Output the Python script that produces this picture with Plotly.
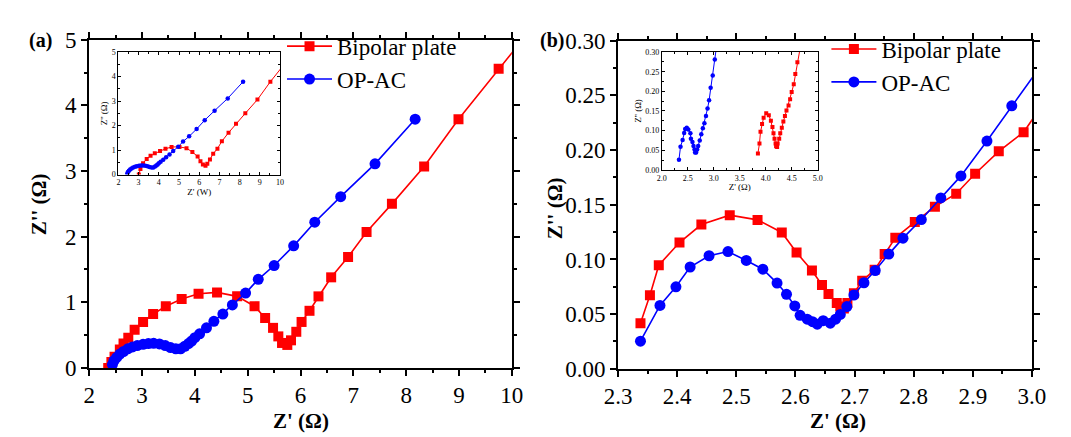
import plotly.graph_objects as go

# ---------------- Panel (a) main data ----------------
a_bp_x = [2.36, 2.42, 2.48, 2.58, 2.65, 2.74, 2.86, 3.02, 3.21, 3.45, 3.75, 4.07, 4.42, 4.80,
          5.13, 5.33, 5.48, 5.58, 5.65, 5.75, 5.82, 5.92, 6.02, 6.17, 6.34, 6.58, 6.90, 7.25,
          7.73, 8.34, 8.99, 9.75, 10.5]
a_bp_y = [0.00, 0.09, 0.17, 0.28, 0.37, 0.46, 0.58, 0.70, 0.82, 0.94, 1.05, 1.13, 1.15, 1.09,
          0.94, 0.76, 0.61, 0.48, 0.38, 0.35, 0.42, 0.55, 0.70, 0.87, 1.09, 1.38, 1.69, 2.07,
          2.50, 3.07, 3.79, 4.56, 5.30]
a_op_x = [2.44, 2.47, 2.52, 2.58, 2.65, 2.73, 2.82, 2.91, 3.02, 3.12, 3.22, 3.33, 3.44, 3.54,
          3.64, 3.73, 3.81, 3.88, 3.94, 4.00, 4.09, 4.22, 4.36, 4.53, 4.71, 4.96, 5.20, 5.50,
          5.87, 6.27, 6.76, 7.41, 8.17]
a_op_y = [0.05, 0.11, 0.16, 0.21, 0.25, 0.29, 0.32, 0.34, 0.36, 0.37, 0.375, 0.365, 0.34, 0.31,
          0.29, 0.29, 0.33, 0.37, 0.41, 0.46, 0.52, 0.61, 0.71, 0.82, 0.96, 1.14, 1.35, 1.56,
          1.86, 2.22, 2.61, 3.11, 3.79]

# ---------------- Panel (a) inset data ----------------
ia_bp_x = [3.01, 3.09, 3.22, 3.40, 3.59, 3.80, 4.06, 4.33, 4.63, 5.02, 5.37, 5.66, 5.92, 6.06,
           6.18, 6.31, 6.40, 6.53, 6.69, 6.90, 7.12, 7.45, 7.82, 8.28, 8.88, 9.52, 10.3]
ia_bp_y = [0.00, 0.23, 0.46, 0.64, 0.77, 0.87, 0.96, 1.05, 1.13, 1.13, 1.08, 0.92, 0.74, 0.55,
           0.41, 0.36, 0.44, 0.62, 0.85, 1.06, 1.36, 1.71, 2.08, 2.50, 3.06, 3.79, 4.60]

# ---------------- Panel (b) main data ----------------
b_bp_x = [2.338, 2.354, 2.369, 2.404, 2.441, 2.489, 2.536, 2.577, 2.602, 2.628, 2.645, 2.656,
          2.670, 2.676, 2.682, 2.688, 2.699, 2.713, 2.734, 2.751, 2.769, 2.802, 2.836, 2.872,
          2.904, 2.944, 2.986, 3.020]
b_bp_y = [0.0417, 0.0672, 0.0948, 0.1155, 0.1319, 0.1405, 0.1362, 0.1247, 0.1063, 0.0899,
          0.0767, 0.0684, 0.0603, 0.0569, 0.0552, 0.0603, 0.0690, 0.0805, 0.0905, 0.1049,
          0.1198, 0.1342, 0.1483, 0.1601, 0.1784, 0.1989, 0.2164, 0.2430]
b_op_x = [2.338, 2.371, 2.398, 2.422, 2.454, 2.486, 2.517, 2.545, 2.569, 2.585, 2.599, 2.608,
          2.620, 2.629, 2.637, 2.647, 2.659, 2.668, 2.676, 2.687, 2.699, 2.716, 2.735, 2.758,
          2.782, 2.813, 2.846, 2.880, 2.924, 2.966, 3.040]
b_op_y = [0.0253, 0.0580, 0.0750, 0.0931, 0.1034, 0.1072, 0.0991, 0.0911, 0.0784, 0.0681,
          0.0575, 0.0489, 0.0454, 0.0431, 0.0408, 0.0440, 0.0417, 0.0454, 0.0497, 0.0569,
          0.0675, 0.0787, 0.0899, 0.1049, 0.1195, 0.1365, 0.1563, 0.1764, 0.2083, 0.2405,
          0.2960]

# ---------------- Panel (b) inset data ----------------
ib_op_x = [2.33, 2.36, 2.40, 2.43, 2.45, 2.48, 2.51, 2.55, 2.56, 2.59, 2.61, 2.63, 2.64, 2.66,
           2.68, 2.70, 2.73, 2.76, 2.79, 2.82, 2.85, 2.88, 2.91, 2.94, 2.98, 3.02, 3.07]
ib_op_y = [0.026, 0.059, 0.076, 0.094, 0.104, 0.107, 0.103, 0.093, 0.079, 0.071, 0.061, 0.052,
           0.044, 0.044, 0.052, 0.061, 0.075, 0.091, 0.106, 0.119, 0.137, 0.156, 0.177, 0.209,
           0.240, 0.281, 0.330]
ib_bp_x = [3.85, 3.88, 3.90, 3.93, 3.96, 4.01, 4.06, 4.10, 4.13, 4.15, 4.17, 4.19, 4.20, 4.22,
           4.23, 4.26, 4.28, 4.31, 4.34, 4.37, 4.40, 4.44, 4.47, 4.50, 4.54, 4.57, 4.61, 4.69]
ib_bp_y = [0.042, 0.067, 0.097, 0.117, 0.133, 0.144, 0.139, 0.125, 0.109, 0.093, 0.079, 0.067,
           0.060, 0.058, 0.067, 0.079, 0.093, 0.107, 0.123, 0.137, 0.151, 0.164, 0.180, 0.198,
           0.218, 0.244, 0.274, 0.330]

names = ["Bipolar plate", "OP-AC"]
RED = "#ff0000"
BLUE = "#0000ff"
FONT = "Liberation Serif, Times New Roman, serif"

fig = go.Figure()

def add(x, y, color, symbol, size, xa, ya, name, showlegend, legend="legend", lw=1.6):
    fig.add_trace(go.Scatter(
        x=x, y=y, mode="lines+markers", name=name,
        line=dict(color=color, width=lw),
        marker=dict(color=color, symbol=symbol, size=size),
        xaxis=xa, yaxis=ya, showlegend=showlegend, legend=legend))

# main (a)
add(a_bp_x, a_bp_y, RED, "square", 10, "x", "y", names[0], True, "legend")
add(a_op_x, a_op_y, BLUE, "circle", 11, "x", "y", names[1], True, "legend")
# main (b)
add(b_bp_x, b_bp_y, RED, "square", 10, "x2", "y2", names[0], True, "legend2")
add(b_op_x, b_op_y, BLUE, "circle", 11, "x2", "y2", names[1], True, "legend2")
# inset (a)
add(ia_bp_x, ia_bp_y, RED, "square", 4, "x3", "y3", names[0], False, lw=1)
add(a_op_x, a_op_y, BLUE, "circle", 4.5, "x3", "y3", names[1], False, lw=1)
# inset (b)
add(ib_bp_x, ib_bp_y, RED, "square", 4, "x4", "y4", names[0], False, lw=1)
add(ib_op_x, ib_op_y, BLUE, "circle", 4.5, "x4", "y4", names[1], False, lw=1)

W, H = 1071, 437
def dx(p0, p1):
    return [p0 / W, p1 / W]
def dy(top, bottom):
    return [(H - bottom) / H, (H - top) / H]

fig.update_layout(
    width=W, height=H, margin=dict(l=0, r=0, t=0, b=0),
    paper_bgcolor="white", plot_bgcolor="white",
    font=dict(family=FONT, color="black", size=12),
    xaxis=dict(domain=dx(69, 503), range=[2, 10], dtick=1, anchor="y",
               minor=dict(dtick=0.5)),
    yaxis=dict(domain=dy(21, 369), range=[0, 5], dtick=1, anchor="x",
               minor=dict(dtick=0.5)),
    xaxis2=dict(domain=dx(612, 1037), range=[2.3, 3.0], dtick=0.1, tickformat=".1f", anchor="y2",
                minor=dict(dtick=0.05)),
    yaxis2=dict(domain=dy(22, 370), range=[0, 0.30], dtick=0.05, tickformat=".2f", anchor="x2",
                minor=dict(dtick=0.025)),
    xaxis3=dict(domain=dx(99, 265), range=[2, 10], dtick=1, anchor="y3",
                minor=dict(dtick=0.5),
                title=dict(text="Z' (W)", font=dict(family=FONT, size=9), standoff=2)),
    yaxis3=dict(domain=dy(34, 164), range=[0, 5], dtick=1, anchor="x3",
                minor=dict(dtick=0.5),
                title=dict(text="Z'' (Ω)", font=dict(family=FONT, size=9), standoff=2)),
    xaxis4=dict(domain=dx(657, 817), range=[2.0, 5.0], dtick=0.5, tickformat=".1f", anchor="y4",
                minor=dict(dtick=0.25),
                title=dict(text="Z' (Ω)", font=dict(family=FONT, size=9), standoff=2)),
    yaxis4=dict(domain=dy(34, 159), range=[0, 0.30], dtick=0.05, tickformat=".2f", anchor="x4",
                minor=dict(dtick=0.025),
                title=dict(text="Z'' (Ω)", font=dict(family=FONT, size=9), standoff=2)),
    legend=dict(x=267 / W, y=1 - 5 / H, xanchor="left", yanchor="top",
                bgcolor="rgba(0,0,0,0)", font=dict(family=FONT, size=23, color="black"),
                tracegroupgap=0, itemsizing="trace", itemwidth=45),
    legend2=dict(x=826 / W, y=1 - 8 / H, xanchor="left", yanchor="top",
                 bgcolor="rgba(0,0,0,0)", font=dict(family=FONT, size=23, color="black"),
                 tracegroupgap=0, itemsizing="trace", itemwidth=45),
)

fig.update_xaxes(showline=True, linecolor="black", linewidth=2, mirror="ticks",
                 ticks="outside", ticklen=6, tickwidth=2, tickcolor="black",
                 showgrid=False, zeroline=False,
                 tickfont=dict(family=FONT, size=23, color="black"),
                 minor_ticks="outside", minor_ticklen=3, minor_tickwidth=2, minor_tickcolor="black",
                 selector=lambda ax: ax.anchor in ("y", "y2"))
fig.update_yaxes(showline=True, linecolor="black", linewidth=2, mirror="ticks",
                 ticks="outside", ticklen=6, tickwidth=2, tickcolor="black",
                 showgrid=False, zeroline=False,
                 tickfont=dict(family=FONT, size=23, color="black"),
                 minor_ticks="outside", minor_ticklen=3, minor_tickwidth=2, minor_tickcolor="black",
                 selector=lambda ax: ax.anchor in ("x", "x2"))
fig.update_xaxes(showline=True, linecolor="black", linewidth=1, mirror="ticks",
                 ticks="inside", ticklen=3, tickwidth=1, tickcolor="black",
                 showgrid=False, zeroline=False,
                 tickfont=dict(family=FONT, size=8, color="black"),
                 minor_ticks="inside", minor_ticklen=2, minor_tickcolor="black",
                 selector=lambda ax: ax.anchor in ("y3", "y4"))
fig.update_yaxes(showline=True, linecolor="black", linewidth=1, mirror="ticks",
                 ticks="inside", ticklen=3, tickwidth=1, tickcolor="black",
                 showgrid=False, zeroline=False,
                 tickfont=dict(family=FONT, size=8, color="black"),
                 minor_ticks="inside", minor_ticklen=2, minor_tickcolor="black",
                 selector=lambda ax: ax.anchor in ("x3", "x4"))

ann_font_title = dict(family=FONT, size=21, color="black")
def ann(text, x, y, font, angle=0):
    fig.add_annotation(text=text, x=x / W, y=1 - y / H, xref="paper", yref="paper",
                       xanchor="center", yanchor="middle", showarrow=False,
                       textangle=angle, font=font)

ann("<b>(a)</b>", 19, 22, dict(family=FONT, size=20, color="black"))
ann("<b>(b)</b>", 544, 22, dict(family=FONT, size=20, color="black"))
ann("<b>Z'' (Ω)</b>", 17, 196, ann_font_title, -90)
ann("<b>Z' (Ω)</b>", 287, 425, ann_font_title)
ann("<b>Z'' (Ω)</b>", 547, 200, ann_font_title, -90)
ann("<b>Z' (Ω)</b>", 838, 425, ann_font_title)

fig.write_html("out.html")
